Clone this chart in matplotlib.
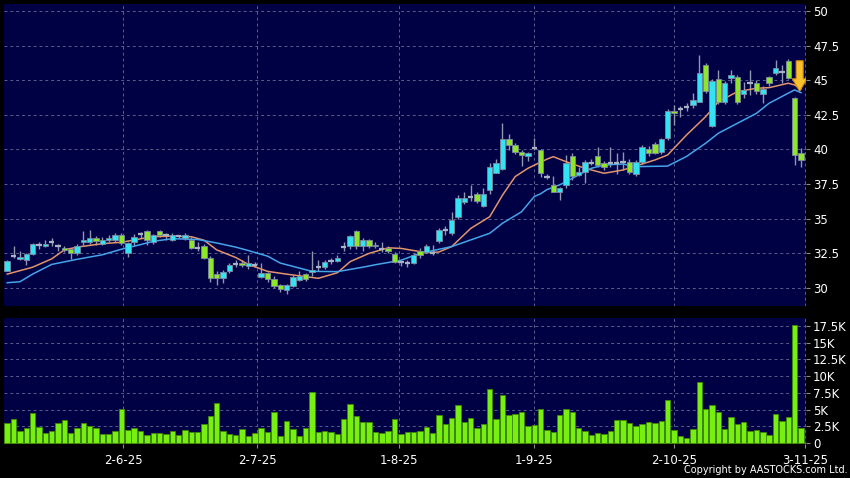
import matplotlib
matplotlib.use('Agg')
import matplotlib.pyplot as plt
import numpy as np
from matplotlib.patches import FancyArrow

# ---------------- data ----------------
opens = [31.25, 32.3, 32.1, 32.0, 32.45, 33.1, 33.05, 33.3, 33.0, 32.9,
         32.8, 32.5, 33.35, 33.3, 33.6, 33.2, 33.45, 33.45, 33.8, 32.55,
         33.3, 33.9, 34.1, 33.3, 34.1, 33.8, 33.5, 33.75, 33.6, 33.5,
         32.9, 33.05, 32.15, 31.0, 30.7, 31.2, 31.75, 31.8, 31.6, 31.65,
         30.8, 31.05, 30.65, 30.2, 29.85, 30.15, 30.55, 31.0, 31.15, 31.55,
         31.55, 31.95, 31.95, 32.95, 33.0, 34.1, 33.0, 33.45, 33.05, 32.85,
         32.9, 32.45, 31.85, 31.8, 31.8, 32.7, 32.6, 32.55, 33.4, 34.2,
         33.95, 35.1, 36.2, 36.6, 36.8, 35.95, 37.05, 38.3, 38.6, 40.75,
         40.3, 39.85, 39.55, 40.1, 39.95, 38.0, 37.45, 36.95, 37.45, 39.5,
         38.15, 38.4, 39.05, 39.5, 39.0, 39.05, 39.05, 39.1, 39.1, 38.25,
         39.1, 40.0, 40.4, 39.8, 40.8, 42.8, 42.9, 43.05, 43.2, 43.45,
         46.1, 41.7, 45.05, 43.45, 45.15, 45.25, 44.0, 44.8, 44.8, 44.0,
         45.2, 45.5, 45.6, 46.4, 43.7, 39.75]
highs = [32.0, 33.0, 32.65, 32.5, 33.25, 33.35, 33.45, 33.6, 33.2, 33.0,
         32.85, 33.2, 34.1, 34.2, 33.75, 33.65, 33.8, 33.95, 33.95, 33.35,
         33.9, 34.05, 34.15, 33.9, 34.2, 34.0, 34.0, 33.85, 34.0, 33.7,
         33.3, 33.2, 32.3, 31.2, 31.3, 31.8, 32.0, 32.0, 32.4, 31.9,
         31.8, 31.15, 30.85, 30.3, 30.3, 30.95, 31.2, 31.1, 32.7, 32.0,
         32.05, 32.2, 32.35, 33.3, 33.85, 34.2, 33.6, 33.55, 33.3, 33.3,
         33.05, 32.6, 32.05, 32.0, 32.5, 32.9, 33.2, 33.1, 34.3, 34.5,
         35.45, 36.7, 36.95, 37.45, 36.9, 37.2, 39.0, 39.3, 41.9, 41.1,
         40.45, 39.95, 39.85, 40.8, 40.05, 38.2, 38.1, 37.3, 39.6, 39.75,
         38.75, 39.25, 39.3, 40.2, 39.15, 40.2, 39.75, 39.8, 39.3, 39.25,
         40.3, 40.25, 40.55, 40.85, 42.95, 43.2, 43.15, 43.35, 44.1, 46.8,
         46.25, 45.1, 45.75, 44.95, 45.75, 45.35, 44.9, 45.75, 45.0, 44.55,
         45.3, 46.45, 46.1, 46.5, 43.8, 40.1]
lows = [31.2, 32.15, 32.0, 31.65, 32.4, 32.85, 32.95, 33.0, 32.7, 32.6,
        32.1, 32.4, 33.1, 33.15, 33.1, 33.1, 33.3, 33.3, 33.1, 32.25,
        33.0, 33.6, 33.1, 33.2, 33.7, 33.5, 33.4, 33.6, 33.5, 32.8,
        32.7, 32.1, 30.4, 30.2, 30.35, 31.1, 31.5, 31.55, 31.4, 31.55,
        30.7, 30.45, 30.0, 29.7, 29.6, 30.05, 30.5, 30.5, 30.9, 31.2,
        31.4, 31.75, 31.85, 32.7, 32.8, 32.8, 32.65, 32.9, 32.9, 32.6,
        32.55, 31.8, 31.6, 31.55, 31.7, 32.2, 32.5, 32.4, 33.25, 33.85,
        33.85, 35.0, 36.05, 36.3, 36.1, 35.85, 36.8, 38.3, 38.5, 39.95,
        39.7, 38.8, 39.2, 39.95, 38.0, 37.9, 36.9, 36.35, 37.25, 37.8,
        38.05, 37.55, 38.9, 38.75, 38.55, 38.75, 38.2, 38.5, 38.25, 38.1,
        38.95, 39.5, 39.65, 39.7, 40.65, 41.75, 42.35, 42.8, 43.0, 43.4,
        44.05, 41.65, 43.3, 43.3, 44.8, 43.3, 43.7, 43.9, 44.0, 43.35,
        44.6, 45.4, 44.8, 45.1, 38.9, 38.75]
closes = [31.95, 32.3, 32.25, 32.45, 33.2, 33.1, 33.2, 33.3, 33.0, 32.75,
          32.5, 33.05, 33.5, 33.6, 33.4, 33.5, 33.6, 33.8, 33.25, 33.25,
          33.7, 33.9, 33.5, 33.8, 33.8, 33.8, 33.85, 33.75, 33.8, 32.9,
          32.9, 32.2, 30.7, 30.7, 31.15, 31.65, 31.75, 31.65, 31.8, 31.65,
          31.05, 30.65, 30.15, 29.95, 30.2, 30.8, 30.9, 30.65, 31.3, 31.55,
          31.9, 31.95, 32.15, 32.95, 33.75, 33.0, 33.5, 33.0, 33.12, 32.85,
          32.65, 31.9, 31.85, 31.8, 32.4, 32.4, 33.0, 32.55, 34.2, 34.2,
          34.9, 36.5, 36.5, 36.6, 36.25, 36.8, 38.75, 39.05, 40.75, 40.3,
          39.8, 39.6, 39.75, 40.1, 38.3, 38.0, 36.95, 37.25, 39.0, 38.05,
          38.4, 39.1, 39.05, 38.9, 38.7, 39.05, 39.05, 39.1, 38.4, 39.1,
          40.15, 39.75, 39.75, 40.75, 42.8, 42.6, 42.9, 43.05, 43.55, 45.55,
          44.2, 44.95, 43.4, 44.8, 45.4, 43.4, 44.3, 44.8, 44.2, 44.35,
          44.8, 45.85, 45.6, 45.15, 39.6, 39.25]
volume_k = [2.95, 3.54, 1.84, 2.19, 4.44, 2.44, 1.45, 1.86, 3.04, 3.44,
            1.45, 2.29, 2.95, 2.5, 2.19, 1.35, 1.35, 1.84, 5.09, 1.9,
            2.29, 1.79, 1.25, 1.5, 1.45, 1.3, 1.74, 1.15, 2.0, 1.7,
            1.65, 2.85, 4.05, 6.03, 1.74, 1.35, 1.15, 2.14, 1.1, 1.45,
            2.29, 1.7, 4.64, 1.1, 3.29, 2.1, 1.0, 2.24, 7.63, 1.6,
            1.86, 1.65, 1.4, 3.64, 5.88, 4.05, 3.14, 3.09, 1.6, 1.55,
            1.84, 3.54, 1.4, 1.7, 1.7, 1.84,
            2.35, 1.55, 4.19, 2.85, 3.79, 5.63, 3.14, 3.69, 2.29, 2.85,
            8.03, 3.54, 7.18, 4.24, 4.39, 4.64, 2.54, 2.7, 5.14, 1.9,
            1.65, 4.14, 5.04, 4.69, 2.19, 1.84, 1.15, 1.5, 1.4, 1.74,
            3.44, 3.44, 2.95, 2.54, 2.85, 3.09, 2.95, 3.24, 6.43, 2.0,
            1.05, 0.75, 2.1, 9.12, 5.09, 5.73, 4.69, 2.14, 3.94, 2.8,
            3.09, 1.84, 1.9, 1.6, 1.25, 4.39, 3.29, 3.84, 17.7, 2.29]

# moving averages read at sample points (candle index, value)
ma_fast_idx = [0, 4, 7, 9, 11, 15, 18, 21, 23, 26, 29, 31, 33, 36, 38, 41, 44,
               49, 52, 54, 57, 60, 62, 66, 68, 70, 73, 76, 78, 80, 82, 85, 86,
               88, 91, 94, 97, 99, 102, 104, 107, 110, 112, 115, 118, 120, 123,
               124, 125]
ma_fast_val = [31.0, 31.5, 32.1, 32.75, 32.95, 33.2, 33.3, 33.55, 33.7, 33.75,
               33.7, 33.45, 32.75, 32.2, 31.7, 31.2, 31.0, 30.7, 31.1, 31.9,
               32.5, 32.9, 32.86, 32.55, 32.6, 32.99, 34.3, 35.15, 36.7, 38.04,
               38.64, 39.3, 39.48, 39.12, 38.64, 38.28, 38.52, 38.81, 39.24,
               39.6, 41.05, 42.37, 43.45, 44.17, 44.42, 44.46, 44.78, 44.66,
               44.35]
ma_slow_idx = [0, 2, 4, 7, 11, 15, 18, 21, 23, 26, 30, 33, 36, 38, 41, 43, 48,
               52, 56, 58, 62, 65, 70, 73, 76, 78, 81, 83, 84, 85, 87, 89, 92,
               94, 97, 99, 104, 107, 110, 112, 115, 118, 120, 123, 124, 125]
ma_slow_val = [30.38, 30.45, 31.0, 31.7, 32.07, 32.4, 32.8, 33.13, 33.37, 33.56,
               33.5, 33.25, 32.95, 32.7, 32.3, 31.8, 31.2, 31.18, 31.5, 31.68,
               32.0, 32.5, 32.99, 33.47, 33.95, 34.67, 35.5, 36.6, 36.8, 37.1,
               37.44, 37.92, 38.64, 38.88, 38.95, 38.76, 38.8, 39.5, 40.45,
               41.17, 41.89, 42.61, 43.34, 44.06, 44.3, 44.1]

price_ticks = [30, 32.5, 35, 37.5, 40, 42.5, 45, 47.5, 50]
vol_ticks_k = [0, 2.5, 5, 7.5, 10, 12.5, 15, 17.5]
date_labels = ['2-6-25', '2-7-25', '1-8-25', '1-9-25', '2-10-25', '3-11-25']
date_pos = [18.3, 39.4, 61.7, 82.9, 105.0, 125.6]
arrow_top, arrow_bottom = 46.4, 44.2

# ---------------- style ----------------
BG = '#000044'
CYAN = '#33e3f2'
GREEN = '#8ee62a'
EDGE = '#7d8aa0'
WICK = '#8f98ad'
GRID = '#56608a'
VOL = '#77f011'
VOL_EDGE = '#3f8a00'

o = np.array(opens); h = np.array(highs); l = np.array(lows); c = np.array(closes)
n = len(o)
x = np.arange(n)

fig = plt.figure(figsize=(8.5, 4.78), dpi=100, facecolor='black')
W, H = 850.0, 478.0
ax = fig.add_axes([4 / W, 1 - 306 / H, 802 / W, 302 / H])
axv = fig.add_axes([4 / W, 1 - 444 / H, 802 / W, 126 / H], sharex=ax)

for a in (ax, axv):
    a.set_facecolor(BG)
    for s in a.spines.values():
        s.set_visible(False)
    a.grid(True, color=GRID, linestyle=(0, (3, 3)), linewidth=0.7)
    a.set_axisbelow(True)
    a.yaxis.tick_right()
    a.tick_params(axis='y', colors='#8a8a8a', labelcolor='white',
                  length=3, width=0.8, pad=2, labelsize=8.5)

# price panel
ax.vlines(x, l, h, color=WICK, linewidth=1.0, zorder=2)
ax.plot(ma_fast_idx, ma_fast_val, color='#e2956c', linewidth=1.1, zorder=2.5)
ax.plot(ma_slow_idx, ma_slow_val, color='#46a4ea', linewidth=1.1, zorder=2.5)
up = c > o
dn = c < o
dj = c == o
ax.bar(x[up], (c - o)[up], bottom=o[up], width=0.85, color=CYAN,
       edgecolor=EDGE, linewidth=0.6, zorder=3)
ax.bar(x[dn], (o - c)[dn], bottom=c[dn], width=0.85, color=GREEN,
       edgecolor=EDGE, linewidth=0.6, zorder=3)
ax.hlines(c[dj], x[dj] - 0.42, x[dj] + 0.42, color='#a8b2c4', linewidth=1.6, zorder=3)

arrow_x = x[-1] - 0.2
ax.add_patch(FancyArrow(arrow_x, arrow_top, 0, -(arrow_top - arrow_bottom),
                        width=1.1, head_width=2.3, head_length=0.9,
                        length_includes_head=True, facecolor='#f7c22c',
                        edgecolor='#d88a10', linewidth=0.8, zorder=5))

ax.set_ylim(28.7, 50.5)
ax.set_yticks(price_ticks)
ax.set_yticklabels([('%g' % t) for t in price_ticks])
ax.set_xticks(date_pos)
ax.tick_params(axis='x', length=0, labelbottom=False)
ax.set_xlim(-0.5, 125.8)

# volume panel
axv.bar(x, volume_k, width=0.85, color=VOL, edgecolor=VOL_EDGE, linewidth=0.6, zorder=3)
axv.set_ylim(-0.15, 18.7)
axv.set_yticks(vol_ticks_k)
axv.set_yticklabels([('0' if t == 0 else '%gK' % t) for t in vol_ticks_k])
axv.set_xticks(date_pos)
axv.set_xticklabels(date_labels)
axv.tick_params(axis='x', colors='#8a8a8a', labelcolor='white', length=3,
                width=0.8, pad=4, labelsize=8.5)

fig.text(848 / W, 1 - 470 / H, 'Copyright by AASTOCKS.com Ltd.', ha='right',
         va='center', color='white', fontsize=7)

fig.savefig('out.png', dpi=100, facecolor='black')
